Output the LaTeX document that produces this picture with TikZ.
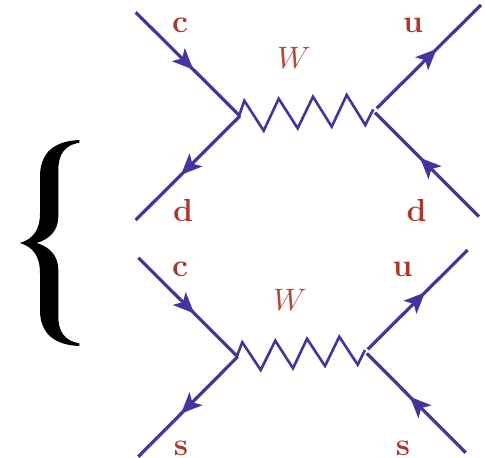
\documentclass[tikz,border=0pt]{standalone}
\usepackage{graphicx}
\usetikzlibrary{arrows.meta,calc}
\definecolor{qblue}{HTML}{45359A}
\definecolor{qred}{HTML}{A93A2B}
\definecolor{wred}{HTML}{B04A3E}
\newcommand{\wlabel}{\scalebox{3.1}{$W$}}
\tikzset{
  quark/.style={draw=qblue,line width=3.2pt},
  arrowed/.style={quark,-{Stealth[length=21pt,width=18pt,inset=5pt,fill=qblue]}},
  boson/.style={draw=qblue,line width=2.6pt,line join=miter},
  flav/.style={text=qred,inner sep=0pt,anchor=base,font=\fontsize{32}{32}\selectfont\bfseries},
  wlab/.style={text=wred,inner sep=0pt,anchor=base},
}
\begin{document}
\begin{tikzpicture}[x=1pt,y=-1pt]
\useasboundingbox (0,0) rectangle (485,458);
% brace
\fill[black] (79.3,140) .. controls (55,141) and (40,152) .. (40,176.7)
  -- (40,213.3) .. controls (40,230) and (33,239) .. (20,243)
  .. controls (33,247) and (40,256) .. (40,273.3)
  -- (40,310) .. controls (40,334) and (55,345) .. (79.3,346)
  -- (79.3,343.3) .. controls (65,341) and (58.3,332) .. (58.3,316.7)
  -- (58.3,270) .. controls (58.3,256) and (50,247) .. (36.7,243)
  .. controls (50,239) and (58.3,230) .. (58.3,216.7)
  -- (58.3,170) .. controls (58.3,154) and (65,145) .. (79.3,142.7) -- cycle;
% upper diagram
\coordinate (a1) at (135.7,12.3);
\coordinate (v1) at (240,116);
\coordinate (b1) at (135.7,220);
\coordinate (c1) at (376.7,108.3);
\coordinate (d1) at (481,5);
\coordinate (e1) at (375,112.7);
\coordinate (f1) at (479,216.7);
\coordinate (zl1) at (239,116);
\coordinate (zr1) at (373.3,109.3);
\coordinate (a1m) at ($(a1)!0.553!(v1)$);
\coordinate (b1m) at ($(v1)!0.566!(b1)$);
\coordinate (c1m) at ($(c1)!0.575!(d1)$);
\coordinate (e1m) at ($(f1)!0.567!(e1)$);
\draw[arrowed] (a1) -- (a1m);
\draw[quark] ($(a1m)!10pt!(a1)$) -- (v1);
\draw[arrowed] (v1) -- (b1m);
\draw[quark] ($(b1m)!10pt!(v1)$) -- (b1);
\draw[arrowed] (c1) -- (c1m);
\draw[quark] ($(c1m)!10pt!(c1)$) -- (d1);
\draw[arrowed] (f1) -- (e1m);
\draw[quark] ($(e1m)!10pt!(f1)$) -- (e1);
\draw[boson] (zl1) -- (244.3,100.7) -- (263.7,130.7) -- (278.7,98.7) -- (297.7,128.3) -- (313,96.7) -- (331.7,126.7) -- (346.7,95) -- (365.3,125) -- (zr1);
\node[flav] (lc1) at (180,32) {c};
\node[flav] (lu1) at (413,32) {u};
\node[flav] (ld1) at (183,221) {d};
\node[flav] (ld2) at (416.7,221) {d};
\node[wlab] (lw1) at (294,68) {\wlabel};
% lower diagram
\coordinate (a2) at (138.3,257.7);
\coordinate (v2) at (237.7,356.7);
\coordinate (b2) at (138.3,456.7);
\coordinate (c2) at (367.7,349.3);
\coordinate (d2) at (467.7,250);
\coordinate (e2) at (366.7,353.3);
\coordinate (f2) at (465.7,452.7);
\coordinate (zl2) at (236.7,356.7);
\coordinate (zr2) at (365,350);
\coordinate (a2m) at ($(a2)!0.563!(v2)$);
\coordinate (b2m) at ($(v2)!0.57!(b2)$);
\coordinate (c2m) at ($(c2)!0.573!(d2)$);
\coordinate (e2m) at ($(f2)!0.563!(e2)$);
\draw[arrowed] (a2) -- (a2m);
\draw[quark] ($(a2m)!10pt!(a2)$) -- (v2);
\draw[arrowed] (v2) -- (b2m);
\draw[quark] ($(b2m)!10pt!(v2)$) -- (b2);
\draw[arrowed] (c2) -- (c2m);
\draw[quark] ($(c2m)!10pt!(c2)$) -- (d2);
\draw[arrowed] (f2) -- (e2m);
\draw[quark] ($(e2m)!10pt!(f2)$) -- (e2);
\draw[boson] (zl2) -- (242.3,342.3) -- (260.7,370) -- (275.3,340.7) -- (293,368.3) -- (307,338.7) -- (325,366) -- (339.3,336.7) -- (357.7,364.7) -- (zr2);
\node[flav] (lc3) at (180,276.7) {c};
\node[flav] (lu3) at (402.7,276.7) {u};
\node[flav] (ls1) at (181,455) {s};
\node[flav] (ls2) at (403,455) {s};
\node[wlab] (lw2) at (290,310.7) {\wlabel};
\end{tikzpicture}
\end{document}
